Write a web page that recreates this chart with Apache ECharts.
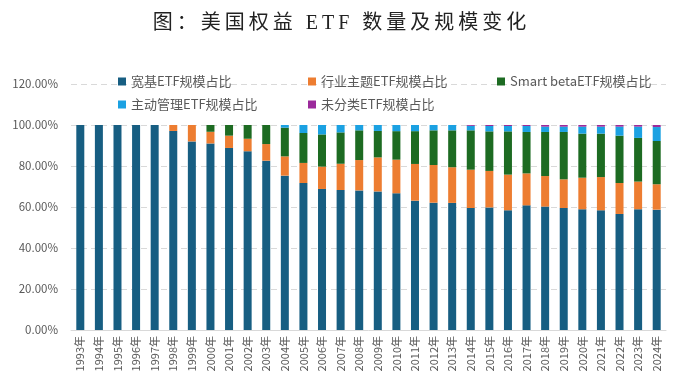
<!DOCTYPE html>
<html><head><meta charset="utf-8">
<script src="https://cdn.jsdelivr.net/npm/echarts@6/dist/echarts.min.js"></script>
<style>html,body{margin:0;padding:0;background:#fff}#c{width:679px;height:391px}</style>
</head><body><div id="c"></div>
<script>
const years = ['1993年','1994年','1995年','1996年','1997年','1998年','1999年','2000年','2001年','2002年','2003年','2004年','2005年','2006年','2007年','2008年','2009年','2010年','2011年','2012年','2013年','2014年','2015年','2016年','2017年','2018年','2019年','2020年','2021年','2022年','2023年','2024年'];
const broad = [100,100,100,100,100,97.1,92.0,91.0,88.8,87.2,82.6,75.3,71.7,68.8,68.3,68.1,67.6,66.7,63.1,62.1,62.0,59.5,59.8,58.4,60.8,60.2,59.5,58.9,58.4,56.6,58.9,58.7];
const sector = [0,0,0,0,0,2.9,8.0,5.7,6.0,6.1,8.1,9.4,9.8,10.9,12.8,14.8,16.6,16.4,17.9,18.4,17.4,18.7,17.8,17.4,15.6,14.9,14.0,15.4,16.2,15.1,13.5,12.4];
const smartBeta = [0,0,0,0,0,0,0,3.3,5.2,6.7,9.3,14.0,14.6,15.7,15.3,14.5,12.9,13.9,16.0,16.9,18.0,19.2,19.3,21.1,20.2,21.5,23.1,21.5,21.2,23.1,21.3,21.1];
const active = [0,0,0,0,0,0,0,0,0,0,0,1.3,3.9,4.6,3.6,2.6,2.9,3.0,3.0,2.6,2.6,2.2,2.6,2.6,2.9,2.6,2.6,3.4,3.4,4.4,5.5,6.8];
const unclassified = [0,0,0,0,0,0,0,0,0,0,0,0,0,0,0,0,0,0,0,0,0,0.4,0.5,0.5,0.5,0.8,0.8,0.8,0.8,0.8,0.8,1.0];
const names = ['宽基ETF规模占比','行业主题ETF规模占比','Smart betaETF规模占比','主动管理ETF规模占比','未分类ETF规模占比'];
const colors = ['#175e82','#ed7d31','#1d6b22','#1ba1e2','#9b2a9b'];
const seriesData = [broad, sector, smartBeta, active, unclassified];
const titleText = '图：美国权益 ETF 数量及规模变化';

const font = '"Noto Sans CJK SC", sans-serif';
const legendPos = [[113,70],[303,70],[492,70],[113,93],[303,93]];
const hs = '\u2009';
const spacedTitle = Array.from(titleText).join(hs);
const chart = echarts.init(document.getElementById('c'));
chart.setOption({
  animation: false,
  title: {
    text: spacedTitle,
    left: 'center', top: 9,
    textStyle: {fontFamily: '"Liberation Serif", "Noto Sans CJK SC", serif', fontSize: 20, fontWeight: 'normal', color: '#222'}
  },
  legend: names.map((n, i) => ({
    data: [n], left: legendPos[i][0], top: legendPos[i][1],
    itemWidth: 8, itemHeight: 8, icon: 'rect', itemGap: 4,
    textStyle: {fontFamily: font, fontSize: 13, color: '#595959'}
  })),
  grid: {left: 71, right: 13, top: 84, bottom: 61},
  xAxis: {
    type: 'category', data: years,
    axisLine: {lineStyle: {color: '#d9d9d9'}},
    axisTick: {show: false},
    axisLabel: {rotate: 90, fontFamily: font, fontSize: 11, color: '#595959', interval: 0, margin: 6}
  },
  yAxis: {
    type: 'value', min: 0, max: 120, interval: 20,
    axisLine: {show: false}, axisTick: {show: false},
    axisLabel: {formatter: v => v.toFixed(2) + '%', fontFamily: font, fontSize: 11.5, color: '#595959', margin: 13},
    splitLine: {lineStyle: {color: '#d9d9d9', type: [6, 4]}}
  },
  series: names.map((n, i) => ({
    name: n, type: 'bar', stack: 'all', barWidth: 8,
    data: seriesData[i], itemStyle: {color: colors[i]}
  }))
});
</script></body></html>
